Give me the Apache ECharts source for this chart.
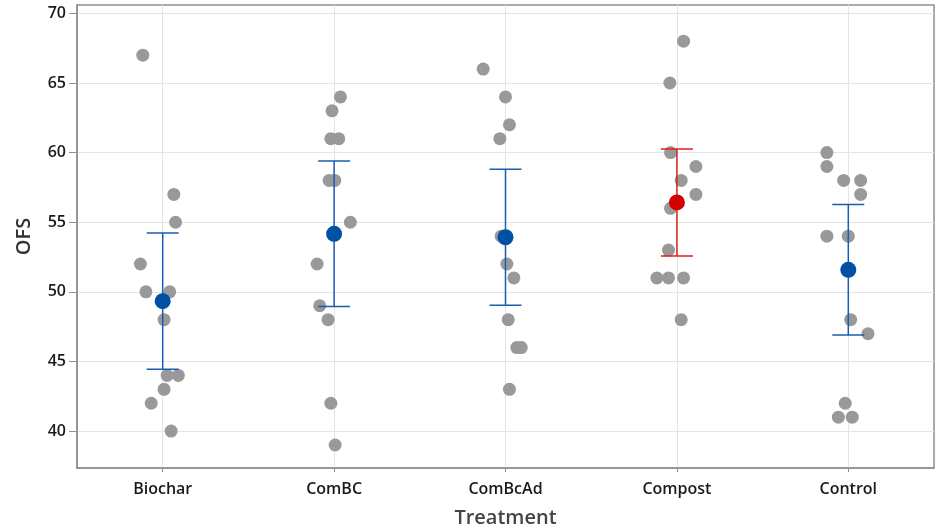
<!DOCTYPE html>
<html>
<head>
<meta charset="utf-8">
<script src="https://cdn.jsdelivr.net/npm/echarts@6/dist/echarts.min.js"></script>
<style>
html,body{margin:0;padding:0;background:#fff;}
#chart{width:938px;height:529px;}
</style>
</head>
<body>
<div id="chart"></div>
<script>
// Categories
var categories = ['Biochar', 'ComBC', 'ComBcAd', 'Compost', 'Control'];
// Individual observations per treatment (OFS)
var biocharVals = [67, 57, 55, 52, 50, 50, 48, 44, 44, 43, 42, 40];
var combcVals   = [64, 63, 61, 61, 58, 58, 55, 52, 49, 48, 42, 39];
var combcadVals = [66, 64, 62, 61, 54, 54, 52, 51, 48, 46, 46, 43];
var compostVals = [68, 65, 60, 59, 58, 57, 56, 53, 51, 51, 51, 48];
var controlVals = [60, 59, 58, 58, 57, 54, 54, 48, 47, 42, 41, 41];
// Horizontal jitter (in category units)
var biocharJit = [-0.116, 0.065, 0.075, -0.130, -0.098, 0.041, 0.008, 0.026, 0.091, 0.008, -0.067, 0.049];
var combcJit   = [0.037, -0.012, -0.019, 0.027, -0.029, 0.004, 0.095, -0.099, -0.084, -0.035, -0.019, 0.006];
var combcadJit = [-0.130, 0.000, 0.023, -0.033, -0.025, 0.000, 0.008, 0.049, 0.016, 0.066, 0.092, 0.023];
var compostJit = [0.039, -0.041, -0.037, 0.111, 0.025, 0.111, -0.037, -0.049, -0.117, -0.049, 0.039, 0.025];
var controlJit = [-0.125, -0.125, -0.027, 0.072, 0.072, -0.125, 0.000, 0.014, 0.115, -0.018, -0.058, 0.023];
// Means and 95% CI
var means = [49.33, 54.17, 53.92, 56.42, 51.58];
var ciLow = [44.45, 48.95, 49.03, 52.58, 46.90];
var ciHigh = [54.22, 59.40, 58.81, 60.26, 56.28];
// Tick labels
var yTicks = [40, 45, 50, 55, 60, 65, 70];
var xTicks = [1, 2, 3, 4, 5];
var highlighted = 'Compost';

var allVals = [biocharVals, combcVals, combcadVals, compostVals, controlVals];
var allJit = [biocharJit, combcJit, combcadJit, compostJit, controlJit];

var pointData = [];
allVals.forEach(function (vals, ci) {
  vals.forEach(function (v, k) {
    pointData.push([ci + 1 + allJit[ci][k], v]);
  });
});

var BLUE = '#0050a4';
var BLUE_LINE = '#1a5cb0';
var RED = '#d40000';
var RED_LINE = '#dd2020';

var errData = categories.map(function (c, i) {
  return [i + 1, ciLow[i], ciHigh[i], c === highlighted ? 1 : 0];
});
var meanData = categories.map(function (c, i) {
  return {
    value: [i + 1, means[i]],
    itemStyle: { color: c === highlighted ? RED : BLUE, opacity: 1 }
  };
});

var FONT = 'Open Sans';
var chart = echarts.init(document.getElementById('chart'), null, { renderer: 'canvas' });
chart.setOption({
  animation: false,
  backgroundColor: '#ffffff',
  grid: {
    left: 77, right: 4, top: 5, bottom: 61,
    containLabel: false, outerBoundsMode: 'none',
    show: true, borderColor: '#8f8f8f', borderWidth: 1.5, backgroundColor: 'transparent'
  },
  xAxis: {
    type: 'value', min: 0.5, max: 5.5,
    name: 'Treatment', nameLocation: 'middle', nameGap: 40,
    nameTextStyle: { fontFamily: FONT, fontSize: 20, fontWeight: 600, color: '#444' },
    axisLine: { show: true, lineStyle: { color: '#8f8f8f', width: 1.5 } },
    axisTick: { show: true, length: 4, lineStyle: { color: '#8f8f8f' }, customValues: xTicks },
    axisLabel: {
      customValues: xTicks, margin: 13,
      fontFamily: FONT, fontSize: 16, fontWeight: 600, color: '#1a1a1a',
      formatter: function (v) { return categories[Math.round(v) - 1] || ''; }
    },
    splitLine: { show: true, lineStyle: { color: '#e4e4e4', width: 1 } }
  },
  yAxis: {
    type: 'value', min: 37.35, max: 70.6,
    name: 'OFS', nameLocation: 'middle', nameGap: 43,
    nameTextStyle: { fontFamily: FONT, fontSize: 20, fontWeight: 600, color: '#333' },
    axisLine: { show: true, lineStyle: { color: '#8f8f8f', width: 1.5 } },
    axisTick: { show: true, length: 8, lineStyle: { color: '#8f8f8f' }, customValues: yTicks },
    axisLabel: {
      customValues: yTicks, margin: 11,
      fontFamily: FONT, fontSize: 16, fontWeight: 600, color: '#1a1a1a'
    },
    splitLine: { show: true, lineStyle: { color: '#e4e4e4', width: 1 } }
  },
  series: [
    {
      type: 'scatter', data: pointData, symbol: 'circle', symbolSize: 13,
      itemStyle: { color: '#999999', opacity: 1 }, z: 2, silent: true
    },
    {
      type: 'custom', data: errData, z: 3, silent: true,
      encode: { x: 0, y: [1, 2] },
      renderItem: function (params, api) {
        var x = api.value(0);
        var lo = api.coord([x, api.value(1)]);
        var hi = api.coord([x, api.value(2)]);
        var col = api.value(3) ? RED_LINE : BLUE_LINE;
        var hw = 16;
        var st = { stroke: col, lineWidth: 1.5 };
        return {
          type: 'group',
          children: [
            { type: 'line', shape: { x1: lo[0], y1: lo[1], x2: hi[0], y2: hi[1] }, style: st },
            { type: 'line', shape: { x1: lo[0] - hw, y1: lo[1], x2: lo[0] + hw, y2: lo[1] }, style: st },
            { type: 'line', shape: { x1: hi[0] - hw, y1: hi[1], x2: hi[0] + hw, y2: hi[1] }, style: st }
          ]
        };
      }
    },
    {
      type: 'scatter', data: meanData, symbol: 'circle', symbolSize: 16, z: 4, silent: true
    }
  ]
});
</script>
</body>
</html>
